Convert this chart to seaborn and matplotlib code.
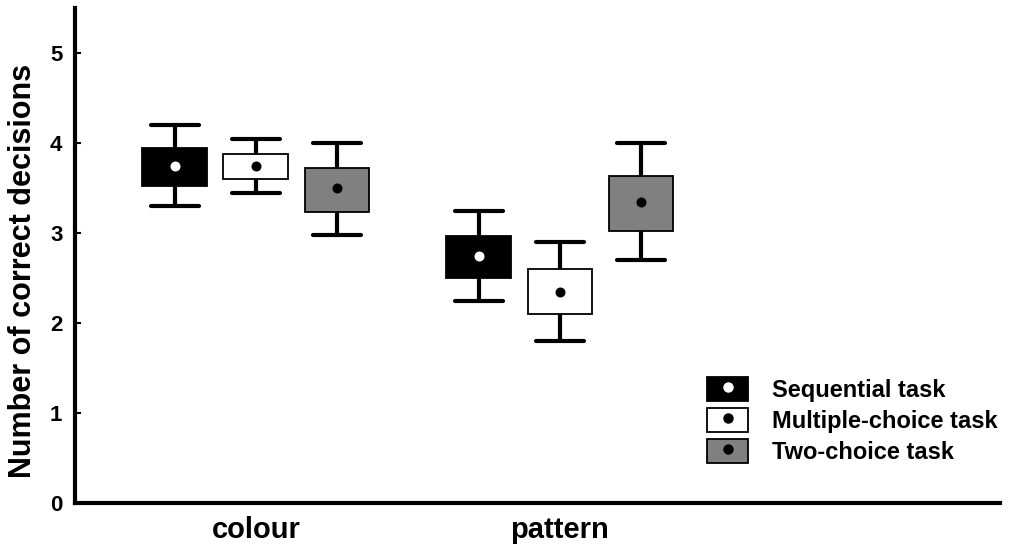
import numpy as np
import pandas as pd
import matplotlib
matplotlib.use("Agg")
import matplotlib.pyplot as plt
import seaborn as sns
from matplotlib.patches import Patch
from matplotlib.lines import Line2D

tasks = ["Sequential task", "Multiple-choice task", "Two-choice task"]
stimuli = ["colour", "pattern"]
# per stimulus, per task (order as in tasks)
whisker_low = {"colour": [3.30, 3.45, 2.98], "pattern": [2.25, 1.80, 2.70]}
q1 = {"colour": [3.52, 3.60, 3.24], "pattern": [2.50, 2.10, 3.02]}
q3 = {"colour": [3.95, 3.88, 3.72], "pattern": [2.97, 2.60, 3.63]}
whisker_high = {"colour": [4.20, 4.05, 4.00], "pattern": [3.25, 2.90, 4.00]}
means = {"colour": [3.75, 3.75, 3.50], "pattern": [2.75, 2.35, 3.35]}

box_colors = ["#000000", "#ffffff", "#808080"]
dot_colors = ["#ffffff", "#000000", "#000000"]

rows = []
mrows = []
for s in stimuli:
    for i, t in enumerate(tasks):
        for v in [whisker_low[s][i], q1[s][i], means[s][i], q3[s][i], whisker_high[s][i]]:
            rows.append({"stim": s, "task": t, "value": v})
        mrows.append({"stim": s, "task": t, "value": means[s][i]})
df = pd.DataFrame(rows)
mdf = pd.DataFrame(mrows)

sns.set_style("white")
plt.rcParams["font.family"] = ["Liberation Sans", "DejaVu Sans"]
plt.rcParams["font.weight"] = "bold"
for k in ["text.color", "axes.labelcolor", "xtick.color", "ytick.color"]:
    plt.rcParams[k] = "black"

fig = plt.figure(figsize=(10.09, 5.45), dpi=100)
ax = fig.add_axes([0.0743, 0.077, 0.9167, 0.908])

sns.boxplot(data=df, x="stim", y="value", hue="task", order=stimuli, hue_order=tasks,
            palette=dict(zip(tasks, box_colors)), whis=(0, 100), width=0.8, gap=0.2,
            linecolor="black", linewidth=1.3, showfliers=False,
            medianprops={"linewidth": 0, "alpha": 0},
            whiskerprops={"linewidth": 3}, capprops={"linewidth": 3},
            capwidths=0.158, saturation=1, legend=False, ax=ax)
sns.stripplot(data=mdf, x="stim", y="value", hue="task", order=stimuli, hue_order=tasks,
              palette=dict(zip(tasks, dot_colors)), dodge=True, jitter=False,
              size=7.2, linewidth=0, legend=False, ax=ax, zorder=5)

ax.set_ylim(0, 5.5)
ax.set_xlim(-0.595, 2.447)
ax.set_yticks([0, 1, 2, 3, 4, 5])
ax.set_yticklabels(["0", "1", "2", "3", "4", "5"], fontsize=16, fontweight="bold")
ax.set_xticklabels(stimuli, fontsize=21, fontweight="bold")
ax.set_xlabel("")
ax.set_ylabel("Number of correct decisions", fontsize=22, fontweight="bold")
ax.yaxis.set_label_coords(-0.04, 0.469)
ax.tick_params(axis="y", direction="in", length=4, width=1.5, left=True, pad=9)
ax.tick_params(axis="x", length=0, pad=9)
for side in ["top", "right"]:
    ax.spines[side].set_visible(False)
for side in ["left", "bottom"]:
    ax.spines[side].set_linewidth(3)
    ax.spines[side].set_color("black")

handles = []
for bc, dc in zip(box_colors, dot_colors):
    handles.append((Patch(facecolor=bc, edgecolor="black", linewidth=1.3),
                    Line2D([], [], marker="o", color=dc, linestyle="", markersize=6.5)))
leg = ax.legend(handles, tasks, loc="upper left", bbox_to_anchor=(0.6605, 0.298),
                frameon=False, handlelength=1.74, handleheight=1.2, labelspacing=0.25,
                handletextpad=1.0, prop={"size": 17, "weight": "bold"})

fig.savefig("out.png", dpi=100)
